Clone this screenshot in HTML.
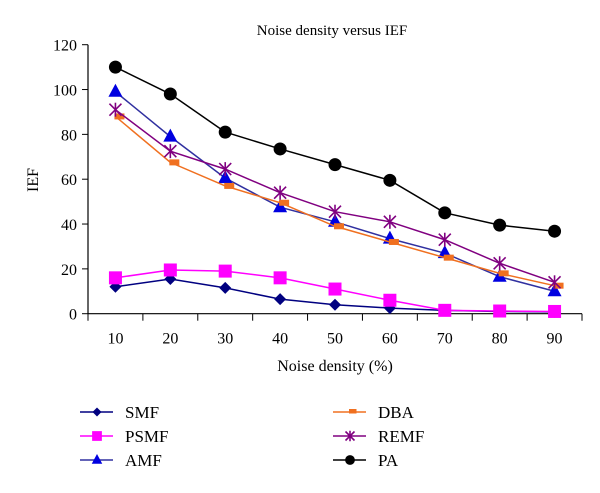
<!DOCTYPE html>
<html><head><meta charset="utf-8"><style>
body{margin:0;background:#fff;}
svg{display:block;font-family:"Liberation Serif",serif;}
</style></head><body>
<svg id="chart" width="600" height="493">
<text x="332" y="35" font-size="15" text-anchor="middle">Noise density versus IEF</text>
<text x="0" y="0" font-size="16" text-anchor="middle" transform="translate(38,180) rotate(-90)">IEF</text>
<text x="335" y="371" font-size="16" text-anchor="middle">Noise density (%)</text>
<g id="axes"></g><g id="series"></g><g id="legend"></g>
</svg>
<script>
const categories=[10,20,30,40,50,60,70,80,90];
const yTicks=[0,20,40,60,80,100,120];
const smf=[12,15.5,11.5,6.5,4,2.5,1.5,1,0.8];
const psmf=[16,19.5,19,16,11,6,1.5,1.2,1];
const amf=[99,79,60.5,47.5,41,33.5,27,16.5,10];
const dba=[88,67.5,57,49.5,39,32,25,18,12.5];
const remf=[91,72.5,64.5,54,45.5,41,33,22.5,14];
const pa=[110,98,81,73.5,66.5,59.5,45,39.5,36.8];
const NS="http://www.w3.org/2000/svg";
const L=88,R=582,T=44.7,B=313.7;
const step=(R-L)/categories.length;
function xs(i){return L+step*(i+0.5);}
function ys(v){return B-(v/120)*(B-T);}
function mk(tag,a,p){const e=document.createElementNS(NS,tag);for(const k in a)e.setAttribute(k,a[k]);p.appendChild(e);return e;}
const ax=document.getElementById('axes');
let e=mk('line',{x1:L,y1:T,x2:L,y2:B,stroke:'#000','stroke-width':1.2},ax);


e=mk('line',{x1:L,y1:B,x2:R,y2:B,stroke:'#000','stroke-width':1.2},ax);


yTicks.forEach(v=>{mk('line',{x1:L-6,y1:ys(v),x2:L,y2:ys(v),stroke:'#000'},ax);
const t=mk('text',{x:L-11,y:ys(v)+6,'font-size':16,'text-anchor':'end'},ax);t.textContent=v;

});
for(let i=0;i<=categories.length;i++)mk('line',{x1:L+step*i,y1:B,x2:L+step*i,y2:B+7,stroke:'#000'},ax);
categories.forEach((c,i)=>{const t=mk('text',{x:xs(i),y:B+30,'font-size':16,'text-anchor':'middle'},ax);t.textContent=c;

});
function marker(g,type,x,y,col,s){
 s=s||1;
 if(type==='diamond')mk('polygon',{points:`${x},${y-6*s} ${x+6*s},${y} ${x},${y+6*s} ${x-6*s},${y}`,fill:col},g);
 else if(type==='square')mk('rect',{x:x-6.5*s,y:y-6.5*s,width:13*s,height:13*s,fill:col},g);
 else if(type==='tri')mk('polygon',{points:`${x},${y-8*s} ${x+7*s},${y+5*s} ${x-7*s},${y+5*s}`,fill:col},g);
 else if(type==='dash')mk('rect',{x:x-1,y:y-3,width:10*s,height:6*s,fill:col},g);
 else if(type==='star'){[[-6,-6,6,6],[-6,6,6,-6],[0,-7,0,7]].forEach(d=>mk('line',{x1:x+d[0]*s,y1:y+d[1]*s,x2:x+d[2]*s,y2:y+d[3]*s,stroke:col,'stroke-width':1.6},g));}
 else if(type==='circle')mk('circle',{cx:x,cy:y,r:6.5*s,fill:col},g);
}
const seriesList=[
 {name:'SMF',data:smf,col:'#000080',m:'diamond'},
 {name:'PSMF',data:psmf,col:'#ff00ff',m:'square'},
 {name:'AMF',data:amf,col:'#0000e0',m:'tri'},
 {name:'DBA',data:dba,col:'#f07020',m:'dash'},
 {name:'REMF',data:remf,col:'#800080',m:'star'},
 {name:'PA',data:pa,col:'#000',m:'circle'}];
const sg=document.getElementById('series');
seriesList.forEach(s=>{
 const g=mk('g',{},sg);
 
 
 const lc=s.m==='tri'?'#3030a0':s.col;
 mk('polyline',{points:s.data.map((v,i)=>xs(i)+','+ys(v)).join(' '),fill:'none',stroke:lc,'stroke-width':1.5},g);
 s.data.forEach((v,i)=>marker(g,s.m,xs(i),ys(v),s.col));
});
const lg=document.getElementById('legend');
seriesList.forEach((s,k)=>{
 const col=k<3?0:1,row=k%3;
 const x0=col?333:80,y=412+row*24;
 const g=mk('g',{},lg);
 
 
 mk('line',{x1:x0,y1:y,x2:x0+33,y2:y,stroke:s.m==='tri'?'#3030a0':s.col,'stroke-width':1.5},g);
 marker(g,s.m,x0+17,y,s.col,0.75);
 const t=mk('text',{x:x0+45,y:y+6,'font-size':17},g);t.textContent=s.name;
});
</script>
</body></html>
